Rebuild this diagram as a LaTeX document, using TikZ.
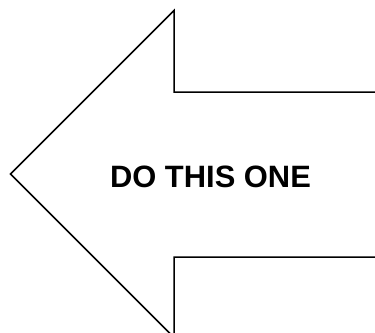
\documentclass[tikz,border=0pt]{standalone}
\usepackage{fontspec}
\setmainfont{Liberation Sans}
\begin{document}
\begin{tikzpicture}[x=1bp,y=-1bp,
  outline/.style={draw=black,line width=1.5bp,line join=miter},
  label/.style={font=\fontsize{31}{37}\selectfont\bfseries,inner sep=0pt}]
\useasboundingbox (0,0) rectangle (375,333);
\clip (0,0) rectangle (375,333);
\coordinate (shaftTopEnd) at (376,92);
\coordinate (shaftTop) at (174,92);
\coordinate (headTop) at (174,10.5);
\coordinate (tip) at (10.5,174);
\coordinate (headBot) at (174,337.5);
\coordinate (shaftBot) at (174,257);
\coordinate (shaftBotEnd) at (376,257);
\draw[outline] (shaftTopEnd) -- (shaftTop) -- (headTop) -- (tip) -- (headBot) -- (shaftBot) -- (shaftBotEnd);
\node[label] (txt) at (210.5,176.5) {DO THIS ONE};
\end{tikzpicture}
\end{document}
